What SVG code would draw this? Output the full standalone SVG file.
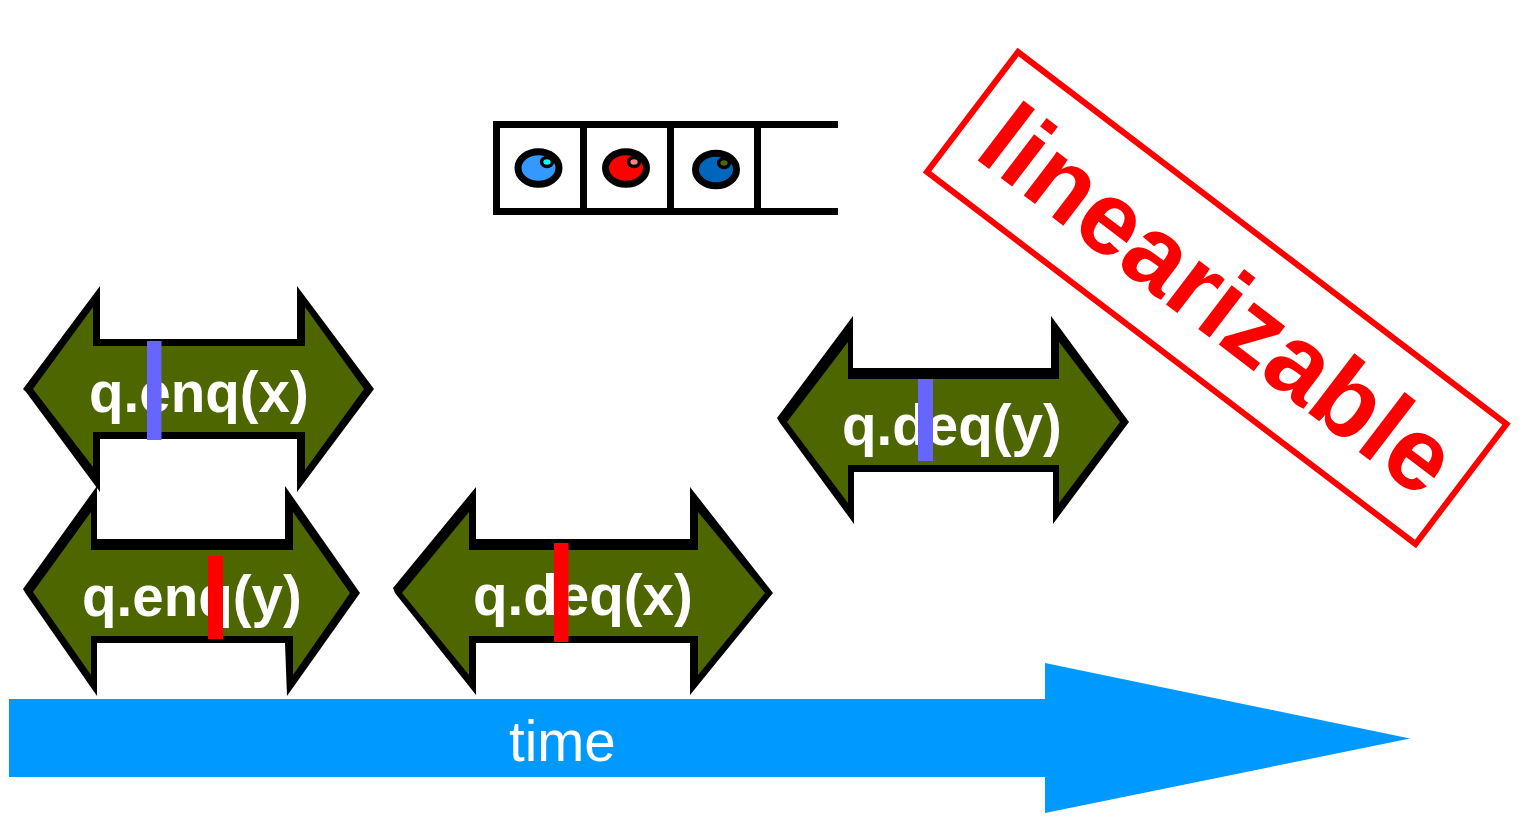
<svg xmlns="http://www.w3.org/2000/svg" width="1531" height="823" viewBox="0 0 1531 823">
<style>
.out{fill:#000}
.in{fill:#4d6600}
.lbl{font-family:"Liberation Sans",Arial,sans-serif;font-weight:700;font-size:56.500px;fill:#fff}
.bar{fill:#000}
.oval{stroke:#000;stroke-width:7}
.eye{stroke:#000;stroke-width:3.500}
</style>
<rect width="1531" height="823" fill="#fff"/>
<g id="queue">
<rect class="bar" x="493" y="121" width="345" height="7"/>
<rect class="bar" x="493" y="208" width="345" height="7"/>
<rect class="bar" x="493" y="121" width="7" height="94"/>
<rect class="bar" x="580" y="121" width="7" height="94"/>
<rect class="bar" x="667" y="121" width="7" height="94"/>
<rect class="bar" x="754" y="121" width="7" height="94"/>
<g id="item-1"><ellipse class="oval" cx="538.500" cy="168" rx="20.500" ry="16.300" fill="#3399ff"/><ellipse class="eye" cx="547" cy="162" rx="5.400" ry="4.500" fill="#00ffff"/></g>
<g id="item-2"><ellipse class="oval" cx="626" cy="168" rx="20.500" ry="16.300" fill="#ff0000"/><ellipse class="eye" cx="634" cy="162" rx="5.400" ry="4.500" fill="#ff8080"/></g>
<g id="item-3"><ellipse class="oval" cx="716" cy="169.500" rx="20.500" ry="16.300" fill="#0066bb"/><ellipse class="eye" cx="724" cy="163" rx="5.400" ry="4.500" fill="#4d6600"/></g>
</g>
<g id="enq-x">
<polygon class="out" points="23,389 100,286 100,339 297,339 297,286 374,389 297,492 297,439 100,439 100,492 26,392"/>
<polygon class="in" points="33,389 93,307 93,346 305,346 305,307 364,389 305,470 305,432 93,432 93,467"/>
<text class="lbl" x="89" y="412">q.enq(x)</text>
<rect x="147" y="341" width="14.500" height="99" fill="#6666ff"/>
</g>
<g id="enq-y">
<polygon class="out" points="23,589 97,486 97,539 285,539 285,486 360,593 287,696 285,643 97,643 97,696 26,594"/>
<polygon class="in" points="33,592 91,512 91,550 293,550 293,512 350,593 293,675 293,636 91,636 91,675"/>
<text class="lbl" x="82" y="616">q.enq(y)</text>
<rect x="208" y="556" width="15" height="83" fill="#ff0000"/>
</g>
<g id="deq-x">
<polygon class="out" points="393,588 476,487 476,539 690,539 690,487 773,593 690,695 690,643 476,643 476,695 395,593"/>
<polygon class="in" points="402,593 469,512 469,550 698,550 698,512 765,593 698,675 698,636 469,636 469,675"/>
<text class="lbl" x="473" y="615">q.deq(x)</text>
<rect x="554" y="543" width="14.500" height="99" fill="#ff0000"/>
</g>
<g id="deq-y">
<polygon class="out" points="777,418 853,316 853,368 1051,368 1051,316 1129,422 1053,524 1053,472 854,472 854,524 780,423"/>
<polygon class="in" points="787,422 848,342 848,379 1059,379 1059,342 1120,422 1059,503 1059,465 848,465 848,503"/>
<text class="lbl" x="842" y="445">q.deq(y)</text>
<rect x="918" y="379" width="15" height="82" fill="#6666ff"/>
</g>
<g id="linearizable">
<polygon points="1018,52 1506.500,424 1415.500,544 927,172" fill="none" stroke="#ff0000" stroke-width="6"/>
<text transform="translate(972 156) rotate(37.400)" x="0" y="0" font-family="'Liberation Sans',Arial,sans-serif" font-weight="700" font-size="104" fill="#ff0000">linearizable</text>
</g>
<g id="time">
<polygon points="9,699 1045,699 1045,663 1410,738.500 1045,813 1045,777 9,777" fill="#0099ff"/>
<text x="509" y="761" font-family="'Liberation Sans',Arial,sans-serif" font-size="56.500" fill="#fff">time</text>
</g>
</svg>
